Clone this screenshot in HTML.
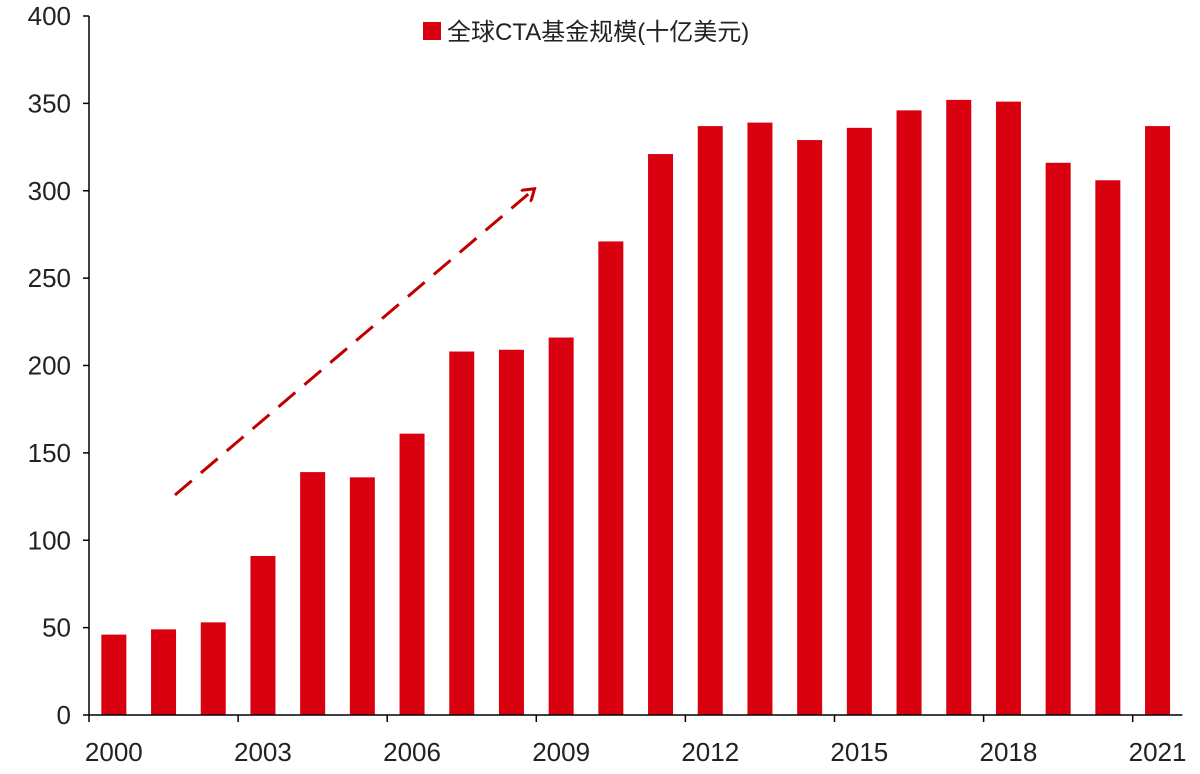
<!DOCTYPE html>
<html><head><meta charset="utf-8"><style>
html,body{margin:0;padding:0;background:#fff;}
svg{display:block;font-family:"Liberation Sans","Noto Sans CJK SC",sans-serif;}
</style></head><body>
<svg id="chart" width="1200" height="774" viewBox="0 0 1200 774" xmlns="http://www.w3.org/2000/svg">
<g id="legend">
<rect x="423" y="22" width="18" height="18" fill="#d9000f"/>
<text x="447" y="40" font-size="24" fill="#222">全球CTA基金规模(十亿美元)</text>
</g>
<g id="bars"></g>
<g id="axes"></g>
<defs><marker id="ah" markerWidth="16" markerHeight="16" refX="10" refY="8" orient="auto" markerUnits="userSpaceOnUse"><path d="M0,0 L12,8 L0,16" fill="none" stroke="#c00000" stroke-width="3"/></marker></defs>
<line x1="175" y1="495" x2="533" y2="190" stroke="#c00000" stroke-width="3" stroke-dasharray="22,12" marker-end="url(#ah)"/>
</svg>
<script>
const years = [2000,2001,2002,2003,2004,2005,2006,2007,2008,2009,2010,2011,2012,2013,2014,2015,2016,2017,2018,2019,2020,2021];
const values = [46,49,53,91,139,136,161,208,209,216,271,321,337,339,329,336,346,352,351,316,306,337];
const yTicks = [0,50,100,150,200,250,300,350,400];
const NS="http://www.w3.org/2000/svg";
const x0=89, bw=49.7, yBase=715, yTop=16, yMax=400;
const xPos=i=>x0+i*bw;
const yPos=v=>yBase-(v/yMax)*(yBase-yTop);
const bars=document.getElementById('bars'), axes=document.getElementById('axes');
function mk(tag,attrs,parent){const e=document.createElementNS(NS,tag);for(const k in attrs)e.setAttribute(k,attrs[k]);parent.appendChild(e);return e;}
values.forEach((v,i)=>{
  const r=mk('rect',{x:xPos(i)+bw/2-12.5,y:yPos(v),width:25,height:yBase-yPos(v),fill:'#d9000f'},bars);
  
  
});
const ya=mk('line',{x1:x0,y1:yTop,x2:x0,y2:yBase,stroke:'#000','stroke-width':1.5},axes);


const xa=mk('line',{x1:x0,y1:yBase,x2:x0+years.length*bw,y2:yBase,stroke:'#000','stroke-width':1.5},axes);


yTicks.forEach(t=>{
  mk('line',{x1:x0-6,y1:yPos(t),x2:x0,y2:yPos(t),stroke:'#000','stroke-width':1.5},axes);
  const tx=mk('text',{x:x0-18,y:yPos(t)+9,'font-size':26,'text-anchor':'end',fill:'#222'},axes);
  tx.textContent=t;
  
  
});
years.forEach((yr,i)=>{
  if(i%3===0) mk('line',{x1:xPos(i),y1:yBase,x2:xPos(i),y2:yBase+7,stroke:'#000','stroke-width':1.5},axes);
  if(i%3===0||i===years.length-1){
    const tx=mk('text',{x:xPos(i)+bw/2,y:yBase+46,'font-size':26,'text-anchor':'middle',fill:'#222'},axes);
    tx.textContent=yr;
    
    
  }
});
</script>
</body></html>
